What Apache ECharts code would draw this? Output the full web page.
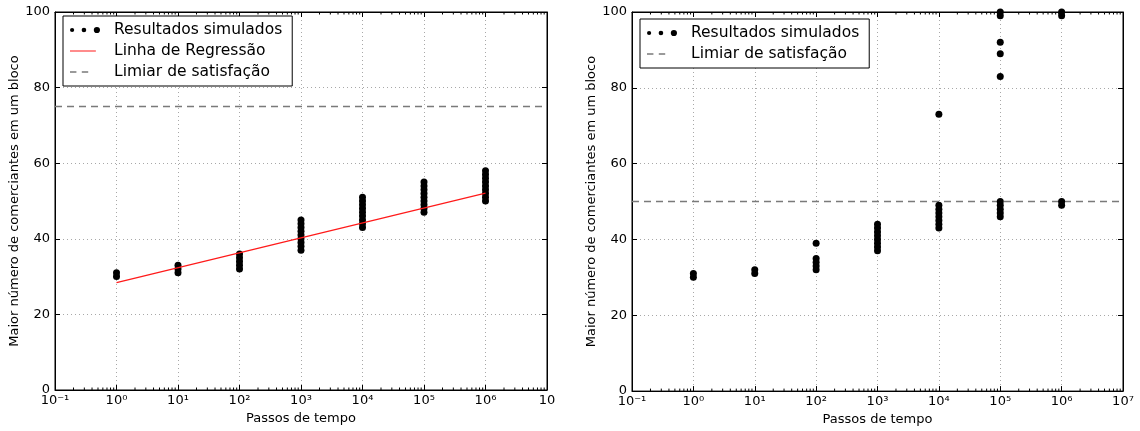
<!DOCTYPE html>
<html><head><meta charset="utf-8">
<script src="https://cdn.jsdelivr.net/npm/echarts@6/dist/echarts.min.js"></script>
<style>html,body{margin:0;padding:0;background:#fff}#c{width:1140px;height:431px}</style>
</head><body><div id="c"></div>
<script>
// ---- data ----
const steps = [1, 10, 100, 1000, 10000, 100000, 1000000];
const leftValues = [
  [30, 31],
  [31, 32, 33],
  [32, 33, 34, 35, 36],
  [37, 38, 39, 40, 41, 42, 43, 44, 45],
  [43, 44, 45, 46, 47, 48, 49, 50, 51],
  [47, 48, 49, 50, 51, 52, 53, 54, 55],
  [50, 51, 52, 53, 54, 55, 56, 57, 58]
];
const rightValues = [
  [30, 31],
  [31, 32],
  [32, 33, 34, 35, 39],
  [37, 38, 39, 40, 41, 42, 43, 44],
  [43, 44, 45, 46, 47, 48, 49, 73],
  [46, 47, 48, 49, 50, 83, 89, 92, 99, 100],
  [49, 50, 99, 100]
];
const regressionX = [1, 1000000];
const regressionY = [28.4, 52.1];
const leftThreshold = 75;
const rightThreshold = 50;
const xMin = 0.1, xMax = 1e7;
const yMin = 0, yMax = 100, yStep = 20;
const minorMultipliers = [2, 3, 4, 5, 6, 7, 8, 9];
const decadeExps = [-1, 0, 1, 2, 3, 4, 5, 6];
const yName = 'Maior número de comerciantes em um bloco';
const xName = 'Passos de tempo';
const nameSim = 'Resultados simulados';
const nameReg = 'Linha de Regressão';
const nameThr = 'Limiar de satisfação';

// ---- helpers ----
const FONT = 'DejaVu Sans';
const SUP = {'-':'⁻','0':'⁰','1':'¹','2':'²','3':'³','4':'⁴','5':'⁵','6':'⁶','7':'⁷','8':'⁸','9':'⁹'};
function supStr(n){ return String(n).split('').map(c => SUP[c]).join(''); }
function labelFmt(clipLast){
  return function(v){
    const e = Math.round(Math.log10(v));
    if (clipLast && e === 7) return '10';
    return '10' + supStr(e);
  };
}
function pairs(vals){
  const out = [];
  steps.forEach((s, i) => vals[i].forEach(v => out.push([s, v])));
  return out;
}
const minorTicks = [];
decadeExps.forEach(e => minorMultipliers.forEach(m => minorTicks.push([m * Math.pow(10, e), 0])));

function minorRender(params, api){
  const x = api.value(0);
  const b = api.coord([x, yMin]);
  const t = api.coord([x, yMax]);
  return {type:'group', children:[
    {type:'line', shape:{x1:b[0], y1:b[1], x2:b[0], y2:b[1]-2.5}, style:{stroke:'#000', lineWidth:1}},
    {type:'line', shape:{x1:t[0], y1:t[1], x2:t[0], y2:t[1]+2.5}, style:{stroke:'#000', lineWidth:1}}
  ]};
}

const gridLine = {show:true, lineStyle:{color:'#a8a8a8', width:1, type:[1,3]}};
function xAxisMain(gi, clipLast){
  return {
    type:'log', logBase:10, gridIndex:gi, position:'bottom', min:xMin, max:xMax,
    name:xName, nameLocation:'middle', nameGap:21,
    nameTextStyle:{fontFamily:FONT, fontSize:13, color:'#000'},
    axisLine:{show:true, onZero:false, lineStyle:{color:'#000', width:1}},
    axisTick:{show:true, inside:true, length:5, lineStyle:{color:'#000'}},
    axisLabel:{fontFamily:FONT, fontSize:13, color:'#000', margin:4, formatter:labelFmt(clipLast), showMinLabel:true, showMaxLabel:true, hideOverlap:false},
    splitLine:gridLine, minorTick:{show:false}
  };
}
function xAxisTop(gi){
  return {
    type:'log', logBase:10, gridIndex:gi, position:'top', min:xMin, max:xMax,
    axisLine:{show:true, onZero:false, lineStyle:{color:'#000', width:1}},
    axisTick:{show:true, inside:true, length:5, lineStyle:{color:'#000'}},
    axisLabel:{show:false}, splitLine:{show:false}
  };
}
function yAxisMain(gi){
  return {
    type:'value', gridIndex:gi, position:'left', min:yMin, max:yMax, interval:yStep,
    name:yName, nameLocation:'middle', nameGap:33,
    nameTextStyle:{fontFamily:FONT, fontSize:13, color:'#000'},
    axisLine:{show:true, onZero:false, lineStyle:{color:'#000', width:1}},
    axisTick:{show:true, inside:true, length:5, lineStyle:{color:'#000'}},
    axisLabel:{fontFamily:FONT, fontSize:13, color:'#000', margin:5},
    splitLine:gridLine
  };
}
function yAxisRight(gi){
  return {
    type:'value', gridIndex:gi, position:'right', min:yMin, max:yMax, interval:yStep,
    axisLine:{show:true, onZero:false, lineStyle:{color:'#000', width:1}},
    axisTick:{show:true, inside:true, length:5, lineStyle:{color:'#000'}},
    axisLabel:{show:false}, splitLine:{show:false}
  };
}

// legend handles (paths span 0..30 so they keep their scale)
const dotsIcon = 'path://M1.5,4a1.9,1.9 0 1,0 3.8,0a1.9,1.9 0 1,0 -3.8,0Z M12,4a2.1,2.1 0 1,0 4.2,0a2.1,2.1 0 1,0 -4.2,0Z M23,4a2.8,2.8 0 1,0 5.6,0a2.8,2.8 0 1,0 -5.6,0Z';
const lineIcon = 'path://M1,0h25v1.2h-25Z M29.95,0h0.05v0.02h-0.05Z';
const dashIcon = 'path://M2,0h6v1.6h-6Z M13,0h6v1.6h-6Z M29.95,0h0.05v0.02h-0.05Z';
const legendBase = {
  orient:'vertical', borderColor:'#000', borderWidth:1, backgroundColor:'#fff',
  padding:[6, 10, 6, 7], itemGap:5, itemWidth:30, itemHeight:14, selectedMode:false,
  textStyle:{fontFamily:FONT, fontSize:15.5, color:'#000', padding:[0,0,0,9]}
};

const thrStyle = {color:'#7a7a7a', width:1.6, type:[7,5]};
const option = {
  animation:false,
  backgroundColor:'#fff',
  grid:[
    {left:55, right:593, top:12, bottom:41, show:true, borderColor:'#000', borderWidth:1, backgroundColor:'transparent'},
    {left:632, right:17, top:12, bottom:39, show:true, borderColor:'#000', borderWidth:1, backgroundColor:'transparent'}
  ],
  legend:[
    Object.assign({}, legendBase, {left:63, top:16, data:[
      {name:nameSim, icon:dotsIcon}, {name:nameReg, icon:lineIcon}, {name:nameThr, icon:dashIcon}
    ]}),
    Object.assign({}, legendBase, {left:640, top:19, data:[
      {name:nameSim, icon:dotsIcon}, {name:nameThr, icon:dashIcon}
    ]})
  ],
  xAxis:[xAxisMain(0, true), xAxisTop(0), xAxisMain(1, false), xAxisTop(1)],
  yAxis:[yAxisMain(0), yAxisRight(0), yAxisMain(1), yAxisRight(1)],
  series:[
    {type:'custom', name:'minor-left', xAxisIndex:0, yAxisIndex:0, data:minorTicks, renderItem:minorRender, silent:true, clip:false, z:5},
    {type:'custom', name:'minor-right', xAxisIndex:2, yAxisIndex:2, data:minorTicks, renderItem:minorRender, silent:true, clip:false, z:5},
    {type:'line', name:nameThr, xAxisIndex:0, yAxisIndex:0, data:[[xMin, leftThreshold],[xMax, leftThreshold]], symbol:'none', lineStyle:thrStyle, itemStyle:{color:'#7a7a7a'}, z:3},
    {type:'scatter', name:nameSim, xAxisIndex:0, yAxisIndex:0, data:pairs(leftValues), symbol:'circle', symbolSize:7, itemStyle:{color:'#000', opacity:1}, z:4},
    {type:'line', name:nameReg, xAxisIndex:0, yAxisIndex:0, data:regressionX.map((x,i)=>[x, regressionY[i]]), symbol:'none', lineStyle:{color:'#ff1a1a', width:1.2}, itemStyle:{color:'#ff1a1a'}, z:6},
    {type:'line', name:nameThr, xAxisIndex:2, yAxisIndex:2, data:[[xMin, rightThreshold],[xMax, rightThreshold]], symbol:'none', lineStyle:thrStyle, itemStyle:{color:'#7a7a7a'}, z:3},
    {type:'scatter', name:nameSim, xAxisIndex:2, yAxisIndex:2, data:pairs(rightValues), symbol:'circle', symbolSize:7, itemStyle:{color:'#000', opacity:1}, clip:true, z:4}
  ]
};
const chart = echarts.init(document.getElementById('c'), null, {renderer:'canvas'});
chart.setOption(option);
</script></body></html>
